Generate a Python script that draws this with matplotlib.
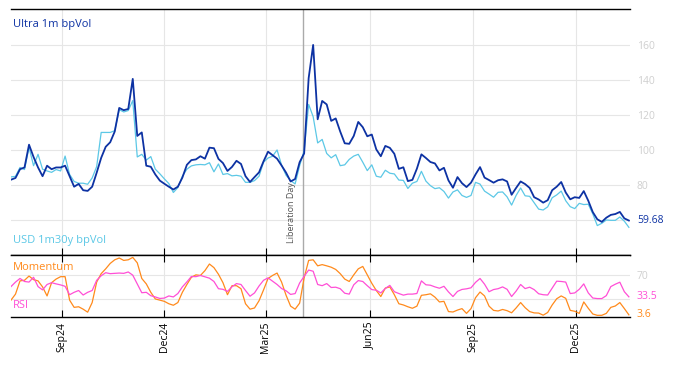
import numpy as np
import pandas as pd
import matplotlib
matplotlib.use("Agg")
import matplotlib.pyplot as plt
import matplotlib.dates as mdates

plt.rcParams['font.family'] = ['Open Sans', 'DejaVu Sans']

# sampled every 4 days from 18 Jul 2024
dates = pd.date_range('2024-07-18', periods=138, freq='4D')

ultra = [83, 84, 89, 90, 103, 96, 90, 85, 91, 89, 90, 90, 91, 85, 79, 80.6, 77, 76.6, 79, 87,
         95.5, 101.8, 104.4, 110.5, 124, 122.7, 123.4, 140.6, 108, 110, 91, 90.4, 86, 82.5, 80.7, 79, 77.4, 79, 84.2, 91.5,
         94.2, 94.6, 96.4, 95, 101.3, 101, 94.9, 92.5, 88, 90.3, 93.8, 92, 85, 81.7, 84.5, 87.2, 93.5, 99, 97, 95,
         91.1, 87, 82, 83.4, 93, 98, 141, 160, 117.5, 128, 126, 116.6, 118, 110.5, 103.8, 103.5, 108, 116, 113, 107.8,
         108.8, 100.3, 96.4, 102.3, 101.2, 97.8, 89.2, 90.1, 82.2, 82.9, 89.3, 97.5, 95.4, 93.1, 92.3, 88.3, 89.8, 82.6, 78.4, 84.5,
         81, 78.8, 81.3, 86, 90.2, 84.2, 82.8, 81.3, 82.7, 83.2, 82, 74.4, 78.3, 82, 80.5, 78.3, 73, 71.7, 69.9, 71.3,
         77, 79, 81.7, 75.7, 71.8, 73, 72.6, 76.5, 71, 64.5, 60.4, 58.9, 61.3, 62.9, 63.4, 64.6, 60.9, 59.68]

usd = [84.6, 84.9, 90, 88.8, 101.5, 91, 97.5, 89, 88, 87.2, 88.8, 88, 96.5, 86, 82, 81, 81, 80.4, 84, 90.5,
       110, 110, 110, 111, 123, 121.7, 122.5, 128.2, 96, 97.5, 94.2, 96.2, 89, 86.4, 83.5, 80.8, 75.7, 78.5, 85, 89,
       90.9, 91.5, 91.7, 91.5, 92.7, 87.5, 92, 86, 86.5, 85.2, 85.5, 85, 81.5, 81.5, 82.5, 85, 93, 95.4, 96.4, 100,
       91.3, 85.5, 82.5, 80.6, 91, 99.6, 126, 119, 104, 106, 98, 95.5, 97.3, 91, 91.5, 94.6, 96.5, 97.5, 93, 88.2,
       91.5, 85, 84.4, 88.4, 86.7, 86.3, 82.8, 82.6, 78, 81, 82, 87.8, 82.2, 79.6, 77.9, 78.4, 76.3, 72.5, 76, 77.2,
       74, 72.9, 74, 81.5, 80.5, 76.5, 74.8, 73, 75.8, 76, 73.2, 68.5, 74, 78.3, 73.8, 73.5, 69.8, 66.2, 65.7, 67.5,
       72.7, 74.3, 76.5, 71, 67.6, 66.5, 69.5, 68.8, 69, 63.5, 56.8, 58.1, 60, 59.8, 59.8, 61.7, 59.3, 55.8]

momentum = [28, 38, 60, 61, 68, 62, 60, 50, 35, 57, 63, 67, 67, 28, 16, 17, 13, 8, 24, 58,
            72, 80, 89, 95, 98, 94, 95, 99, 90, 64, 55, 41, 30, 28, 26, 22, 19.5, 24, 41, 54,
            66, 70, 69, 77, 88, 82, 71, 57, 37, 52, 52, 47, 22, 13, 15, 27, 45, 64, 69, 73,
            58, 36, 18, 13, 23, 65, 94, 95, 85, 87, 85, 82.7, 79, 72, 63, 59, 70, 80, 84, 70,
            56, 44, 34, 48, 50, 37, 22, 20, 17, 14.5, 18, 36, 37, 38.5, 33, 25, 26, 9, 8.3, 11.5,
            13.9, 6, 13.9, 32, 41.5, 35, 18, 11, 10, 12.5, 10.5, 7, 15, 24, 15.5, 9, 6.8, 6.5, 3, 7.5,
            20, 30.3, 35, 31, 11, 9.5, 6, 25, 14.5, 5, 2.8, 2.8, 6, 16, 18.3, 24, 14, 3.6]

rsi = [50.5, 58, 64, 59, 58, 66, 50.5, 45, 54, 57, 55, 53.3, 51, 37, 41, 44, 36.5, 41, 44, 61,
       68.5, 73.6, 72, 72.5, 73, 72.5, 74.8, 69.5, 55, 40.3, 41, 35.4, 33.3, 30.8, 31.4, 35, 33.3, 39, 50, 58.3,
       67.3, 67, 69, 66.7, 64.5, 59, 47, 46, 42.5, 50.2, 55.5, 54, 44, 34.5, 40, 51.5, 61, 65, 59.5, 54,
       47.3, 43.5, 37.5, 38.9, 56.5, 67.5, 78, 76, 54, 52, 55.5, 49, 49.5, 47, 39.5, 38, 53.5, 60.5, 59, 52,
       45.5, 44.5, 40, 47.5, 52.5, 42, 39, 36.3, 38, 38, 39, 60, 53.5, 52.8, 50, 47.8, 51, 41.7, 34, 42.5,
       45.8, 46.8, 48.5, 57.5, 64, 54.5, 42, 45.6, 47, 50, 46, 34, 43, 54, 47.2, 49.5, 45.5, 38.6, 37, 36.5,
       48, 59.5, 59, 58, 38.9, 40, 46, 55, 40, 31.5, 30.6, 30.6, 35.5, 50.5, 54.5, 57.8, 42, 33.5]

event_date = pd.Timestamp('2025-04-03')
xmin, xmax = pd.Timestamp('2024-07-18'), pd.Timestamp('2026-01-18')

c_ultra = '#0d32a3'
c_usd = '#5cc8e6'
c_mom = '#ff8a1c'
c_rsi = '#ff4fd6'
c_grid = '#e6e6e6'
c_lab = '#cfcfcf'

fig = plt.figure(figsize=(6.74, 3.66), dpi=100)
ax1 = fig.add_axes([0.0163, 0.3033, 0.9184, 0.6721])
ax2 = fig.add_axes([0.0163, 0.1339, 0.9184, 0.1694], sharex=ax1)

ax1.plot(dates, usd, color=c_usd, lw=0.9, zorder=3)
ax1.plot(dates, ultra, color=c_ultra, lw=1.3, zorder=4)
ax2.plot(dates, momentum, color=c_mom, lw=0.9, zorder=3)
ax2.plot(dates, rsi, color=c_rsi, lw=0.9, zorder=4)

for ax in (ax1, ax2):
    ax.axvline(event_date, color='#aaaaaa', lw=1, zorder=2)
    ax.set_xlim(xmin, xmax)
    ax.grid(True, color=c_grid, lw=0.8, zorder=0)
    ax.set_axisbelow(True)
    for s in ('left', 'right'):
        ax.spines[s].set_visible(False)
    for s in ('top', 'bottom'):
        ax.spines[s].set_color('black')
        ax.spines[s].set_linewidth(1)
    ax.yaxis.tick_right()
    ax.tick_params(axis='y', length=0, pad=5, labelsize=7.5, labelcolor=c_lab)

ax1.xaxis.set_major_locator(mdates.MonthLocator(bymonth=[3, 6, 9, 12]))
ax2.xaxis.set_major_formatter(mdates.DateFormatter('%b%y'))
ax1.tick_params(axis='x', direction='in', length=5, labelbottom=False, color='black')
ax2.tick_params(axis='x', direction='in', length=5, top=True, labelsize=7.5,
                labelrotation=90, color='black')

ax1.set_ylim(40, 180.5)
ax1.set_yticks([60, 80, 100, 120, 140, 160])
ax1.set_yticklabels(['', '80', '100', '120', '140', '160'])
ax2.set_ylim(0, 103)
ax2.set_yticks([30, 70])
ax2.set_yticklabels(['', '70'])

# last values on the right
ax1.annotate(f'{ultra[-1]:.2f}', xy=(1, ultra[-1]), xycoords=('axes fraction', 'data'),
             xytext=(5, 0), textcoords='offset points', va='center', fontsize=7.5, color=c_ultra)
ax2.annotate(f'{rsi[-1]:.1f}', xy=(1, rsi[-1]), xycoords=('axes fraction', 'data'),
             xytext=(5, 0), textcoords='offset points', va='center', fontsize=7.5, color=c_rsi)
ax2.annotate(f'{momentum[-1]:.1f}', xy=(1, momentum[-1]), xycoords=('axes fraction', 'data'),
             xytext=(5, 0), textcoords='offset points', va='center', fontsize=7.5, color=c_mom)

# series labels
ax1.text(0.003, 0.935, 'Ultra 1m bpVol', transform=ax1.transAxes, fontsize=8,
         color=c_ultra, va='center')
ax1.text(0.003, 0.06, 'USD 1m30y bpVol', transform=ax1.transAxes, fontsize=8,
         color=c_usd, va='center')
ax2.text(0.003, 0.8, 'Momentum', transform=ax2.transAxes, fontsize=8,
         color=c_mom, va='center')
ax2.text(0.003, 0.18, 'RSI', transform=ax2.transAxes, fontsize=8,
         color=c_rsi, va='center')

ax1.annotate('Liberation Day', xy=(event_date, 0.049), xycoords=('data', 'axes fraction'),
             xytext=(-8.5, 0), textcoords='offset points', rotation=90,
             ha='center', va='bottom', fontsize=6.5, color='#555555', zorder=2)

fig.savefig('out.png', dpi=100)
